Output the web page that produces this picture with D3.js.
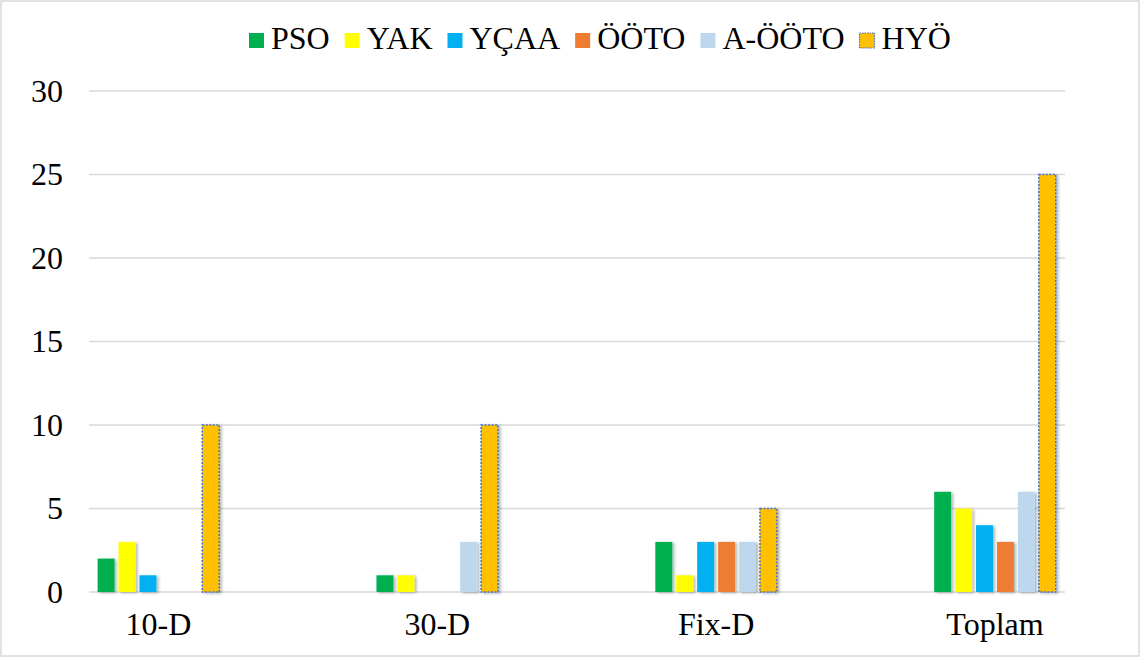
<!DOCTYPE html>
<html>
<head>
<meta charset="utf-8">
<script src="https://cdn.jsdelivr.net/npm/d3@7"></script>
<style>
  body { margin: 0; background: #fff; }
</style>
</head>
<body>
<svg width="1140" height="657"></svg>
<script>
const categories = ['10-D', '30-D', 'Fix-D', 'Toplam'];
const seriesNames = ['PSO', 'YAK', 'YÇAA', 'ÖÖTO', 'A-ÖÖTO', 'HYÖ'];
const seriesColors = ['#00B050', '#FFFF00', '#00B0F0', '#ED7D31', '#BDD7EE', '#FFC000'];
const values = {
  'PSO':    [2, 1, 3, 6],
  'YAK':    [3, 1, 1, 5],
  'YÇAA':   [1, 0, 3, 4],
  'ÖÖTO':   [0, 0, 3, 3],
  'A-ÖÖTO': [0, 3, 3, 6],
  'HYÖ':    [10, 10, 5, 25]
};
const yTicks = [0, 5, 10, 15, 20, 25, 30];

const FONT = '"Liberation Serif"';
const svg = d3.select('svg');

// outer frame
svg.append('rect')
  .attr('x', 1).attr('y', 1)
  .attr('width', 1138).attr('height', 655)
  .attr('fill', 'none')
  .attr('stroke', '#d9d9d9')
  .attr('stroke-width', 1.5);

const defs = svg.append('defs');
defs.append('filter')
  .attr('id', 'shadow')
  .attr('x', '-30%').attr('y', '-10%')
  .attr('width', '160%').attr('height', '130%')
  .append('feDropShadow')
  .attr('dx', 2).attr('dy', 1)
  .attr('stdDeviation', 1.5)
  .attr('flood-color', '#000')
  .attr('flood-opacity', 0.3);

const y = d3.scaleLinear().domain([0, 30]).range([592, 91]);
const x0 = d3.scaleBand().domain(categories).range([19, 1134.4]);
const x1 = d3.scaleBand().domain(seriesNames).range([-60.8, 60.8]).paddingInner(0.19);
const color = d3.scaleOrdinal().domain(seriesNames).range(seriesColors);

// gridlines
svg.append('g')
  .selectAll('line')
  .data(yTicks)
  .enter()
  .append('line')
  .attr('x1', 89).attr('x2', 1065)
  .attr('y1', d => y(d)).attr('y2', d => y(d))
  .attr('stroke', '#d9d9d9')
  .attr('stroke-width', 1.5);

// y labels
svg.append('g')
  .selectAll('text')
  .data(yTicks)
  .enter()
  .append('text')
  .attr('x', 63)
  .attr('y', d => y(d))
  .attr('dy', '0.34em')
  .attr('text-anchor', 'end')
  .style('font-family', FONT)
  .style('font-size', '32px')
  .text(d => d);

// bars
const groups = svg.append('g')
  .selectAll('g')
  .data(categories)
  .enter()
  .append('g')
  .attr('transform', d => 'translate(' + (x0(d) + x0.bandwidth() / 2) + ',0)');

groups.selectAll('rect')
  .data((c, i) => seriesNames.map(s => ({ s: s, v: values[s][i] })).filter(d => d.v > 0))
  .enter()
  .append('rect')
  .attr('x', d => x1(d.s))
  .attr('y', d => y(d.v))
  .attr('width', x1.bandwidth())
  .attr('height', d => y(0) - y(d.v))
  .attr('fill', d => color(d.s))
  .attr('filter', 'url(#shadow)')
  .attr('stroke', d => d.s === 'HYÖ' ? '#4472C4' : 'none')
  .attr('stroke-width', 1.5)
  .attr('stroke-dasharray', '2,1.5');

// x labels
svg.append('g')
  .selectAll('text')
  .data(categories)
  .enter()
  .append('text')
  .attr('x', d => x0(d) + x0.bandwidth() / 2)
  .attr('y', 635)
  .attr('text-anchor', 'middle')
  .style('font-family', FONT)
  .style('font-size', '32px')
  .text(d => d);

// legend
const legend = svg.append('g').attr('transform', 'translate(249,49)');
let lx = 0;
seriesNames.forEach((s, i) => {
  const g = legend.append('g').attr('transform', 'translate(' + lx + ',0)');
  g.append('rect')
    .attr('x', 0).attr('y', -16)
    .attr('width', 15).attr('height', 15)
    .attr('fill', color(s))
    .attr('stroke', s === 'HYÖ' ? '#4472C4' : 'none')
    .attr('stroke-width', 1.2)
    .attr('stroke-dasharray', '1.5,1');
  const t = g.append('text')
    .attr('x', 22)
    .style('font-family', FONT)
    .style('font-size', '32px')
    .text(s);
  lx += 22 + t.node().getComputedTextLength() + 15;
});
</script>
</body>
</html>
